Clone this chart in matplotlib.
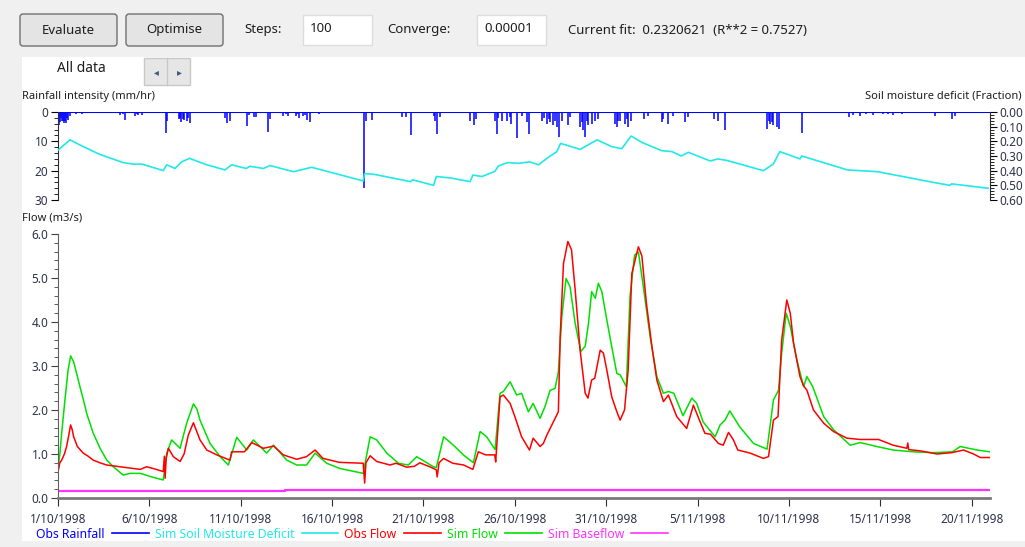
from datetime import datetime, timedelta

import matplotlib
matplotlib.use('Agg')
from matplotlib import pyplot as plt
from matplotlib.lines import Line2D
from matplotlib.patches import Rectangle, FancyBboxPatch
from matplotlib.ticker import MultipleLocator, FuncFormatter, FormatStrFormatter

# ---- data (day offsets from 1/10/1998) ----
start = datetime(1998, 10, 1)

obs_day = [0.0, 0.1, 0.2, 0.35, 0.47, 0.6, 0.69, 0.78, 0.85, 1.06, 1.38, 1.65, 1.93, 2.3, 2.66, 3.2, 4.12,
           4.5, 4.85, 5.3, 5.76, 5.82, 5.86, 5.92, 6.04, 6.31, 6.68, 6.9, 7.13, 7.41, 7.77, 8.14, 8.69,
           9.41, 9.5, 10.2, 10.6, 11.24, 11.8, 12.33, 13.06, 13.6, 14.07, 14.5, 15.4, 16.7, 16.78,
           16.85, 17.08, 17.44, 18.17, 18.5, 19.08, 19.5, 19.8, 20.4, 20.7, 20.75, 20.85, 21.1, 21.6,
           22.2, 22.7, 23.0, 23.4, 23.9, 23.95, 24.19, 24.37, 24.74, 25.0, 25.37, 25.8, 26.0, 26.38,
           26.56, 26.75, 27.11, 27.38, 27.48, 27.66, 27.9, 28.1, 28.3, 28.57, 28.85, 29.0, 29.2,
           29.37, 29.67, 29.85, 30.03, 30.3, 30.58, 30.76, 31.0, 31.2, 31.4, 31.76, 31.95, 32.2, 32.5,
           32.77, 33.13, 33.4, 33.86, 34.4, 34.77, 35.1, 35.4, 35.7, 36.14, 36.4, 36.69, 36.96, 37.2,
           37.88, 38.6, 38.88, 39.15, 39.4, 39.6, 39.88, 40.07, 40.25, 40.6, 40.8, 40.98, 41.34, 41.9,
           42.44, 43.17, 43.9, 44.9, 45.7, 46.45, 46.5, 46.55, 47.2, 48.1, 48.9, 49.55, 50.1, 50.47,
           51.0]
obs_flow = [0.60, 0.80, 0.86, 1.0, 1.17, 1.45, 1.66, 1.55, 1.40, 1.17, 1.02, 0.95, 0.86, 0.80, 0.75, 0.72,
            0.67, 0.65, 0.71, 0.66, 0.60, 0.95, 0.45, 0.90, 1.13, 0.94, 0.83, 1.0, 1.43, 1.71, 1.32,
            1.09, 0.98, 0.86, 1.05, 1.05, 1.26, 1.13, 1.18, 0.98, 0.88, 0.94, 1.09, 0.90, 0.81, 0.79,
            0.34, 0.80, 0.96, 0.83, 0.75, 0.79, 0.70, 0.72, 0.80, 0.70, 0.64, 0.48, 0.80, 0.90, 0.79,
            0.75, 0.65, 1.05, 0.98, 0.98, 0.82, 2.30, 2.34, 2.15, 1.85, 1.39, 1.09, 1.36, 1.17,
            1.24, 1.43, 1.73, 1.96, 3.67, 5.33, 5.83, 5.64, 4.73, 3.36, 2.38, 2.27, 2.68,
            2.72, 3.36, 3.29, 2.91, 2.30, 1.96, 1.77, 2.0, 2.91, 5.1, 5.71, 5.5, 4.42, 3.44,
            2.68, 2.19, 2.34, 1.85, 1.58, 2.11, 1.77, 1.47, 1.45, 1.24, 1.20, 1.49, 1.32, 1.09,
            1.02, 0.90, 0.94, 1.77, 1.85, 3.59, 4.50, 4.20, 3.52, 2.76, 2.55, 2.45, 2.0, 1.70,
            1.51, 1.36, 1.33, 1.33, 1.20, 1.13, 1.25, 1.10, 1.07, 1.0, 1.03, 1.09, 1.0, 0.92,
            0.92]

sim_day = [0.0, 0.1, 0.2, 0.38, 0.55, 0.69, 0.85, 1.02, 1.2, 1.39, 1.57, 1.93, 2.3, 2.67, 3.03, 3.57,
           3.94, 4.5, 5.2, 5.76, 5.95, 6.22, 6.68, 7.04, 7.41, 7.6, 7.77, 8.32, 8.87, 9.32, 9.78,
           10.33, 10.69, 11.42, 11.79, 12.52, 13.06, 13.6, 14.07, 14.7, 15.43, 16.7, 17.08, 17.44,
           17.99, 18.63, 19.17, 19.63, 20.54, 20.7, 21.1, 21.64, 22.18, 22.73, 23.1, 23.46, 23.92,
           24.19, 24.37, 24.74, 25.1, 25.37, 25.74, 26.0, 26.38, 26.65, 26.93, 27.2, 27.38, 27.57,
           27.8, 28.02, 28.3, 28.61, 28.85, 29.03, 29.2, 29.4, 29.57, 29.76, 30.03, 30.3, 30.58,
           30.76, 31.1, 31.3, 31.55, 31.76, 32.03, 32.4, 32.77, 33.13, 33.4, 33.7, 34.2, 34.68,
           34.95, 35.3, 35.96, 36.23, 36.5, 36.76, 37.3, 38.06, 38.8, 39.15, 39.43, 39.6, 39.85,
           40.07, 40.43, 40.8, 40.98, 41.3, 41.9, 42.44, 43.35, 43.9, 44.8, 45.7, 46.8, 47.9,
           48.95, 49.37, 50.3, 51.0]
sim_flow = [0.64, 1.0, 1.47, 2.23, 2.9, 3.23, 3.1, 2.83, 2.53, 2.23, 1.92, 1.47, 1.13, 0.86, 0.71, 0.52,
            0.56, 0.56, 0.47, 0.41, 1.02, 1.32, 1.13, 1.70, 2.14, 2.02, 1.77, 1.24, 0.94, 0.75, 1.38,
            1.09, 1.32, 1.02, 1.20, 0.86, 0.75, 0.75, 1.02, 0.79, 0.67, 0.56, 1.39, 1.32,
            1.02, 0.79, 0.75, 0.94, 0.71, 0.69, 1.39, 1.2, 0.98, 0.80, 1.51, 1.39, 1.1,
            2.38, 2.42, 2.64, 2.34, 2.38, 1.96, 2.15, 1.81, 2.08, 2.45, 2.49, 2.87, 4.12,
            4.99, 4.80, 3.97, 3.33, 3.45, 3.97, 4.69, 4.54, 4.88, 4.69, 4.05, 3.44, 2.83,
            2.80, 2.53, 4.58, 5.52, 5.59, 4.80, 3.67, 2.76, 2.38, 2.42, 2.38, 1.87, 2.27,
            2.15, 1.73, 1.39, 1.66, 1.77, 1.98, 1.62, 1.24, 1.11, 2.23, 2.45, 3.29, 4.20,
            3.9, 3.14, 2.53, 2.76, 2.53, 1.85, 1.55, 1.20, 1.26, 1.17, 1.09, 1.05, 1.03,
            1.05, 1.17, 1.09, 1.05]

base_day = [0.0, 12.4, 39.2, 51.0]
base_flow = [0.15, 0.18, 0.19, 0.19]

smd_day = [0.0, 0.66, 1.2, 2.3, 3.57, 4.1, 4.6, 5.76, 5.95, 6.4, 6.77, 7.2, 8.14, 9.14, 9.5, 10.3, 10.5,
           11.24, 11.6, 12.88, 13.88, 16.7, 16.78, 17.3, 19.3, 19.4, 20.55, 20.7, 21.5, 22.55, 22.7,
           23.2, 23.9, 24.1, 24.6, 25.2, 25.8, 26.3, 26.75, 27.3, 27.5, 27.8, 28.57, 29.0, 29.5,
           30.3, 30.85, 31.36, 32.0, 33.04, 33.6, 34.1, 34.5, 35.69, 36.1, 36.6, 38.6, 39.14, 39.5,
           40.6, 40.7, 43.2, 44.85, 47.9, 48.8, 48.9, 50.9]
smd = [0.26, 0.19, 0.225, 0.29, 0.345, 0.355, 0.355, 0.40, 0.36, 0.385, 0.34, 0.316, 0.36, 0.395, 0.36,
       0.385, 0.37, 0.385, 0.365, 0.407, 0.377, 0.47, 0.42, 0.425, 0.475, 0.462, 0.50, 0.44, 0.45,
       0.475, 0.43, 0.44, 0.405, 0.368, 0.345, 0.35, 0.34, 0.36, 0.316, 0.27, 0.214, 0.225, 0.255,
       0.225, 0.19, 0.236, 0.25, 0.164, 0.21, 0.264, 0.27, 0.30, 0.275, 0.334, 0.32, 0.33, 0.40,
       0.355, 0.27, 0.32, 0.30, 0.395, 0.407, 0.48, 0.50, 0.49, 0.52]

rain_day = [0.03, 0.1, 0.15, 0.2, 0.27, 0.35, 0.4, 0.45, 0.5, 0.55, 0.65, 1.0, 1.1, 1.3, 1.4, 1.6,
            3.4, 3.55, 3.67, 4.2, 4.3, 4.4, 4.6, 5.9, 5.95, 6.6, 6.68, 6.75, 6.85, 6.9, 7.05, 7.12,
            7.2, 9.15, 9.23, 9.4, 10.36, 10.45, 10.7, 10.85, 11.47, 11.6, 12.3, 12.45, 12.6, 13.0,
            13.1, 13.2, 13.4, 13.5, 13.6, 13.8, 14.3, 16.77, 16.85, 17.2, 18.8, 19.05, 19.32, 20.6,
            20.65, 20.73, 20.9, 22.55, 22.79, 22.9, 23.9, 24.0, 24.1, 24.28, 24.55, 24.74, 24.8,
            25.1, 25.4, 25.65, 25.78, 26.47, 26.6, 26.75, 26.85, 26.93, 27.11, 27.2, 27.29, 27.44,
            27.57, 27.93, 28.0, 28.57, 28.65, 28.72, 28.84, 28.93, 29.02, 29.2, 29.39, 29.57, 30.49,
            30.58, 30.67, 30.76, 31.03, 31.12, 31.21, 31.34, 32.04, 32.3, 33.04, 33.13, 33.4, 33.68,
            34.32, 34.5, 35.87, 36.14, 36.5, 38.79, 38.88, 38.97, 39.05, 39.15, 39.33, 39.48, 40.7,
            43.26, 43.5, 43.9, 44.2, 44.6, 45.15, 45.4, 45.7, 46.2, 48.0, 48.92, 49.1]
rain_mm = [4.3, 3.5, 2.0, 3.0, 3.2, 3.9, 3.0, 3.8, 2.0, 2.6, 1.5, 0.6, 0.5, 0.7, 0.5, 0.5,
           1.0, 0.8, 2.7, 1.2, 0.8, 1.0, 1.0, 7.3, 3.0, 2.5, 2.0, 3.5, 2.5, 2.8, 3.2, 2.0,
           3.6, 2.0, 3.9, 2.9, 4.9, 1.0, 1.8, 1.8, 6.8, 2.3, 1.2, 0.8, 1.2, 1.2,
           0.8, 2.0, 1.5, 1.0, 2.6, 3.3, 0.7, 25.9, 3.0, 2.7, 1.8, 1.8, 7.9, 1.5,
           3.0, 7.6, 1.8, 3.0, 4.6, 2.4, 3.0, 7.6, 2.0, 2.9, 3.0, 1.8, 4.1,
           8.8, 1.5, 3.5, 7.5, 2.9, 2.0, 4.0, 2.5, 3.5, 4.6, 3.0, 5.2, 8.6,
           2.9, 4.6, 1.8, 5.2, 3.5, 6.3, 8.4, 3.0, 4.6, 4.0, 2.9, 2.3, 4.0,
           5.2, 3.0, 2.9, 4.0, 2.5, 5.2, 2.9, 2.3, 1.2, 3.5, 2.3, 4.2, 1.2,
           3.5, 1.8, 2.3, 2.9, 6.3, 5.8, 3.0, 4.0, 3.5, 4.6, 5.2, 5.8, 7.2,
           1.8, 0.9, 1.2, 0.7, 0.9, 0.6, 0.8, 0.9, 0.6, 1.2, 2.3, 1.5]

labels = ['Obs Rainfall', 'Sim Soil Moisture Deficit', 'Obs Flow', 'Sim Flow', 'Sim Baseflow']
colours = ['#0000ff', '#22e8e8', '#ff0000', '#00e000', '#ff33ff']

# ---- figure ----
W, H = 1025, 547
plt.rcParams['font.family'] = ['Noto Sans', 'DejaVu Sans']
fig = plt.figure(figsize=(W / 100, H / 100), dpi=100, facecolor='#f0f0f0')


def fx(x):
    return x / W


def fy(y):
    return 1 - y / H


# background / UI chrome in pixel coords
bg = fig.add_axes([0, 0, 1, 1])
bg.set_xlim(0, W)
bg.set_ylim(H, 0)
bg.axis('off')
bg.add_patch(Rectangle((22, 57), W - 22, 484, facecolor='white', edgecolor='none'))
for x0, txt in [(20, 'Evaluate'), (126, 'Optimise')]:
    bg.add_patch(FancyBboxPatch((x0, 14), 97, 32, boxstyle='round,pad=0,rounding_size=3',
                                facecolor='#e4e4e4', edgecolor='#707070', lw=1))
    bg.text(x0 + 48.5, 30, txt, ha='center', va='center', fontsize=9.5, color='#1e1e1e')
for x0, txt in [(303, '100'), (477, '0.00001')]:
    bg.add_patch(Rectangle((x0, 15), 69, 30, facecolor='white', edgecolor='#dddddd', lw=1))
    bg.text(x0 + 7, 28, txt, ha='left', va='center', fontsize=9.5, color='#1e1e1e')
bg.text(244, 30, 'Steps:', ha='left', va='center', fontsize=9.5, color='#1e1e1e')
bg.text(387, 30, 'Converge:', ha='left', va='center', fontsize=9.5, color='#1e1e1e')
bg.text(568, 30, 'Current fit:  0.2320621  (R**2 = 0.7527)', ha='left', va='center',
        fontsize=9.5, color='#1e1e1e')
bg.text(57, 68, 'All data', ha='left', va='center', fontsize=10, color='#1e1e1e')
bg.add_patch(Rectangle((144, 58), 46, 27, facecolor='#e6e6e6', edgecolor='#c8c8c8', lw=1))
bg.plot([167, 167], [58, 85], color='#c8c8c8', lw=1)
bg.text(156, 72, '\u25c2', ha='center', va='center', fontsize=7, color='#3a5a8a', family='DejaVu Sans')
bg.text(179, 72, '\u25b8', ha='center', va='center', fontsize=7, color='#3a5a8a', family='DejaVu Sans')
bg.text(22, 96, 'Rainfall intensity (mm/hr)', ha='left', va='center', fontsize=8, color='#1e1e1e')
bg.text(1022, 96, 'Soil moisture deficit (Fraction)', ha='right', va='center', fontsize=8, color='#1e1e1e')
bg.text(22, 218, 'Flow (m3/s)', ha='left', va='center', fontsize=8, color='#1e1e1e')

tick_col = '#30304a'
xmax = 51.0

# ---- top panel: rainfall + soil moisture deficit ----
ax_r = fig.add_axes([fx(58), fy(200), fx(990 - 58), 88 / H])
ax_r.set_facecolor('none')
ax_r.vlines(rain_day, 0, rain_mm, color=colours[0], lw=1.1)
ax_r.axhline(0, color=colours[0], lw=1.5)
ax_r.set_xlim(0, xmax)
ax_r.set_ylim(30, 0)
ax_r.yaxis.set_major_locator(MultipleLocator(10))
ax_r.yaxis.set_minor_locator(MultipleLocator(2))
ax_r.set_xticks([])
for s in ['top', 'bottom', 'right']:
    ax_r.spines[s].set_visible(False)
ax_r.spines['left'].set_color('#303030')
ax_r.tick_params(axis='y', which='major', length=5, labelsize=8.5, labelcolor=tick_col, pad=2)
ax_r.tick_params(axis='y', which='minor', length=3)

ax_s = ax_r.twinx()
ax_s.plot(smd_day, smd, color=colours[1], lw=1.2)
ax_s.set_ylim(0.6, 0)
ax_s.yaxis.set_major_locator(MultipleLocator(0.1))
ax_s.yaxis.set_minor_locator(MultipleLocator(0.02))
ax_s.yaxis.set_major_formatter(FormatStrFormatter('%.2f'))
for s in ['top', 'bottom', 'left']:
    ax_s.spines[s].set_visible(False)
ax_s.spines['right'].set_color('#303030')
ax_s.tick_params(axis='y', which='major', length=5, labelsize=8.5, labelcolor=tick_col, pad=2)
ax_s.tick_params(axis='y', which='minor', length=3)

# ---- main panel: flow ----
ax = fig.add_axes([fx(58), fy(498), fx(990 - 58), (498 - 234) / H])
ax.set_facecolor('none')
ax.plot(base_day, base_flow, color=colours[4], lw=1.6, drawstyle='steps-post')
ax.plot(sim_day, sim_flow, color=colours[3], lw=1.1)
ax.plot(obs_day, obs_flow, color=colours[2], lw=1.1)
ax.set_xlim(0, xmax)
ax.set_ylim(0, 6)
ax.yaxis.set_major_locator(MultipleLocator(1))
ax.yaxis.set_minor_locator(MultipleLocator(0.2))
ax.yaxis.set_major_formatter(FormatStrFormatter('%.1f'))
ax.xaxis.set_major_locator(MultipleLocator(5))


def day_label(v, pos):
    d = start + timedelta(days=v)
    return f'{d.day}/{d.month}/{d.year}'


ax.xaxis.set_major_formatter(FuncFormatter(day_label))
for s in ['top', 'right']:
    ax.spines[s].set_visible(False)
ax.spines['left'].set_color('#606060')
ax.spines['bottom'].set_color('#7a7a7a')
ax.spines['bottom'].set_linewidth(2)
ax.tick_params(axis='y', which='major', length=5, labelsize=8.5, labelcolor=tick_col, color='#404040', pad=2)
ax.tick_params(axis='y', which='minor', length=3, color='#404040')
ax.tick_params(axis='x', which='major', length=6, labelsize=8.5, labelcolor=tick_col, color='#303030', pad=5)

# ---- legend (label before sample line) ----
handles = [Line2D([], [], color=c, lw=1.2) for c in colours]
fig.legend(handles, labels, loc='center left', bbox_to_anchor=(fx(36), fy(534)), ncol=5,
           frameon=False, markerfirst=False, handlelength=3.0, handletextpad=0.6,
           columnspacing=0.5, labelcolor='linecolor', fontsize=8.8, borderpad=0, borderaxespad=0)

fig.savefig('out.png', dpi=100, facecolor=fig.get_facecolor())
